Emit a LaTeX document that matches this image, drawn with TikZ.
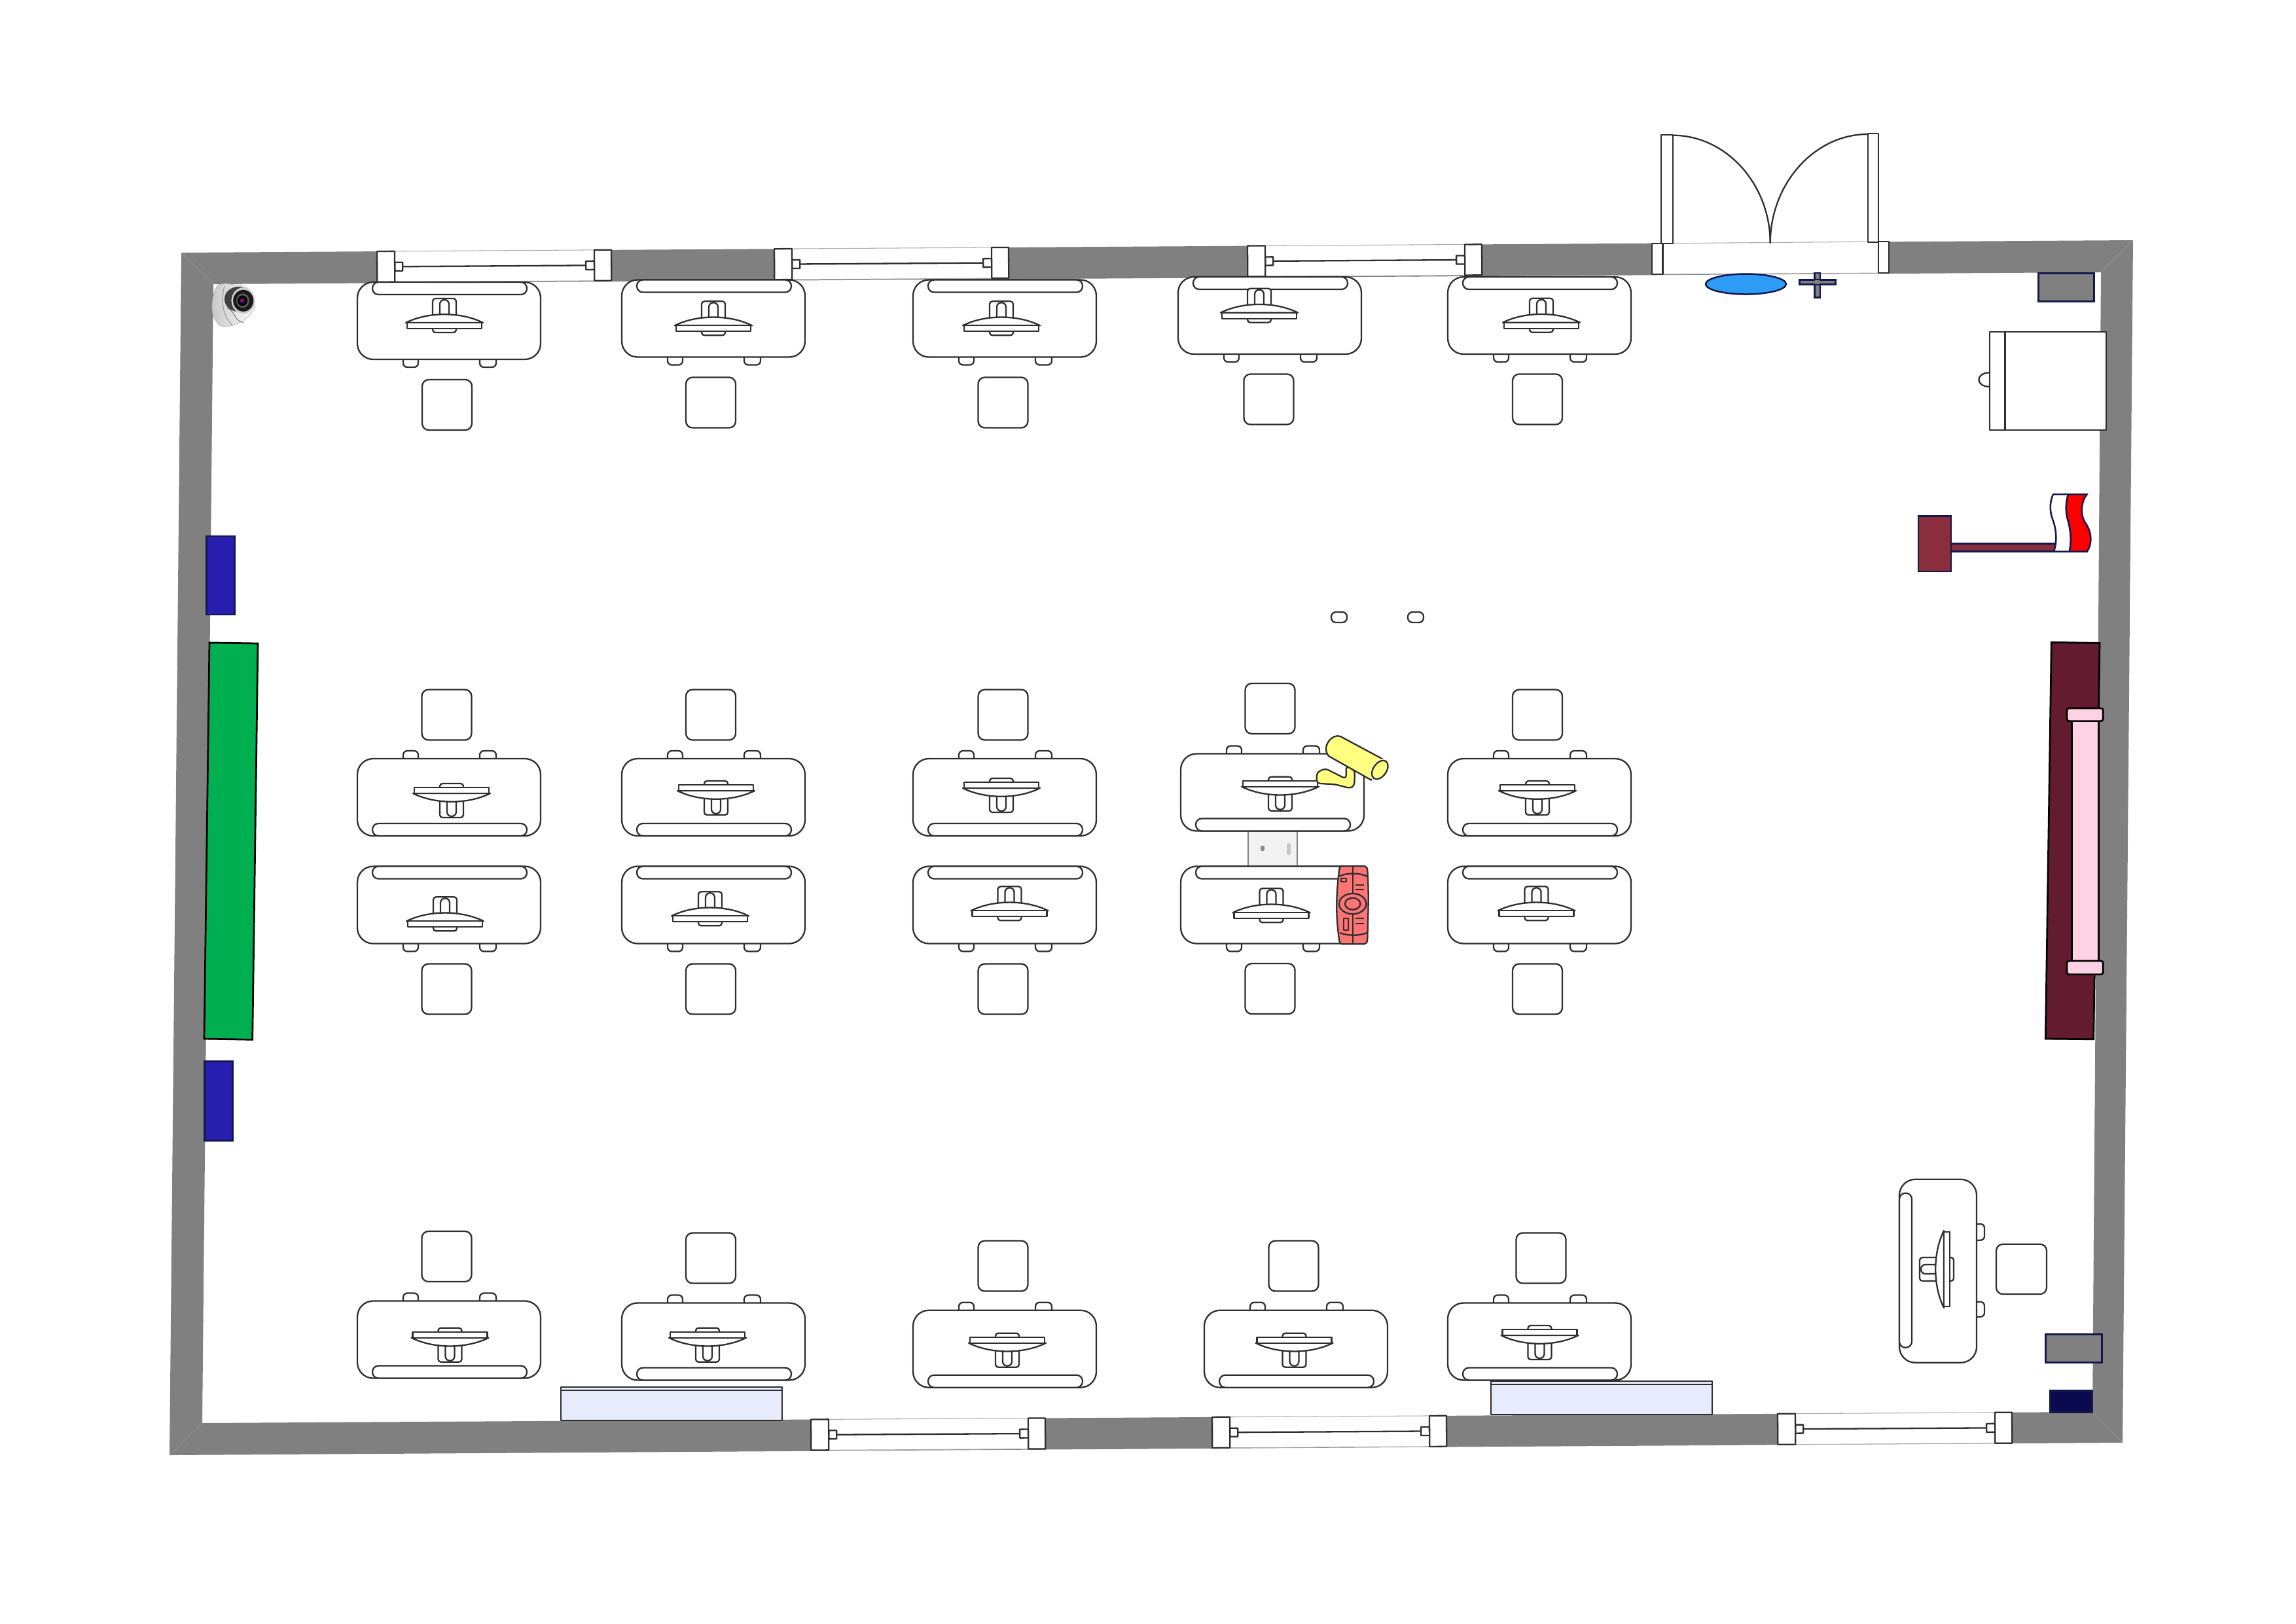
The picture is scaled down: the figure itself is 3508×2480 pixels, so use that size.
\documentclass[tikz,border=0pt]{standalone}
\usetikzlibrary{positioning}

\definecolor{wallgray}{HTML}{808080}
\definecolor{inkdark}{HTML}{2E2E2E}
\definecolor{navyline}{HTML}{13184C}
\definecolor{standred}{HTML}{8A2D3C}
\definecolor{boardwine}{HTML}{631C2F}
\definecolor{boardpink}{HTML}{FDD2E4}
\definecolor{boardgreen}{HTML}{00B050}
\definecolor{panelblue}{HTML}{281EAF}
\definecolor{shelfblue}{HTML}{E7EBFC}
\definecolor{ovalblue}{HTML}{2D9CF5}
\definecolor{camyellow}{HTML}{FFFF80}
\definecolor{remotered}{HTML}{FF7474}
\definecolor{deepnavy}{HTML}{0B0A50}

\tikzset{
    furn/.style={draw=inkdark, line width=0.55bp, fill=white, line join=round},
    wire/.style={draw=inkdark, line width=0.55bp, line join=round},
    navybox/.style={draw=navyline, line width=0.6bp},
    blackbox/.style={draw=black, line width=0.65bp},
    edgeline/.style={draw=gray!65, line width=0.25bp},
    seamline/.style={draw=gray!75, line width=0.12bp}
}

% one desk, strip side up, legs side down
\newcommand{\deskbody}{
    \draw[furn, rounded corners=1.5bp] (-70,55) -- (-70,71) -- (-47,71) -- (-47,55);
    \draw[furn, rounded corners=1.5bp] (47,55) -- (47,71) -- (72,71) -- (72,55);
    \draw[furn, rounded corners=5.8bp] (-140,-59) rectangle (140,59);
    \draw[furn, rounded corners=2.2bp] (-117,-59) rectangle (119,-40);
}
% monitor, origin on the line between hood and screen
\newcommand{\monitorset}{
    \draw[furn, rounded corners=1bp] (-18,-5) -- (-18,-37) -- (18,-37) -- (18,-5);
    \draw[furn, rounded corners=1.6bp] (-7,-5) -- (-7,-35) -- (7,-35) -- (7,-5);
    \draw[furn, rounded corners=1bp] (-18,5) -- (-18,15) -- (18,15) -- (18,5);
    \draw[furn] (-59,0) .. controls (-25,-17) and (25,-17) .. (59,0) -- cycle;
    \draw[furn] (-57,0) rectangle (57,9);
}
% window in the wall, origin at the top left of its left post
\newcommand{\wallwindow}{
    \fill[white] (0,0) rectangle (358,47);
    \draw[edgeline] (0,0) -- (358,0);
    \draw[edgeline] (0,47) -- (358,47);
    \draw[wire] (39,23.5) -- (319,23.5);
    \draw[furn] (27,17) rectangle (39,30);
    \draw[furn] (319,17) rectangle (332,30);
    \draw[furn] (0,0) rectangle (27,47);
    \draw[furn] (332,0) rectangle (358,47);
}

\begin{document}
\begin{tikzpicture}[x=0.24bp, y=-0.24bp]

    \useasboundingbox (0,0) rectangle (3508,2480);

    % walls
    \fill[wallgray, even odd rule] (277,386) -- (3259,367) -- (3243,2204) -- (259,2223) -- cycle
        (326,434) -- (3210,416) -- (3197,2157) -- (309,2174) -- cycle;
    \draw[seamline] (277,386) -- (326,434);
    \draw[seamline] (3259,367) -- (3210,416);
    \draw[seamline] (3243,2204) -- (3197,2157);
    \draw[seamline] (259,2223) -- (309,2174);

    % windows
    \foreach \wx/\wy in {576/384, 1183/380.2, 1906/375.6} {
        \begin{scope}[shift={(\wx,\wy)}, rotate=0.37]
            \wallwindow
        \end{scope}
    }
    \foreach \wx/\wy in {1239/2168.5, 1852/2164.9, 2716/2159.8} {
        \begin{scope}[shift={(\wx,\wy)}, rotate=0.34]
            \wallwindow
        \end{scope}
    }

    % double door
    \fill[white] (2524,372) -- (2886,369) -- (2886,417) -- (2524,419) -- cycle;
    \draw[edgeline] (2524,372) -- (2886,369);
    \draw[edgeline] (2524,419) -- (2886,417);
    \draw[furn] (2523.7,371.7) rectangle (2540.5,418.7);
    \draw[furn] (2870,369.3) rectangle (2886.3,416.7);
    \draw[furn] (2538,206) rectangle (2555.7,371.7);
    \draw[furn] (2853.8,204) rectangle (2870,370);
    \draw[wire] (2555.7,206.7) .. controls (2637,206.7) and (2704.7,281) .. (2704.7,371.7);
    \draw[wire] (2853.8,205) .. controls (2772,205) and (2704.7,281) .. (2704.7,371.7);

    % gap between the two centre desks
    \fill[black!5] (1906.7,1265) rectangle (1981.7,1328);
    \draw[wallgray, line width=0.55bp] (1906.7,1265) -- (1906.7,1328);
    \draw[wallgray, line width=0.55bp] (1981.7,1265) -- (1981.7,1328);
    \fill[black!45, rounded corners=0.4bp] (1926,1292) rectangle (1932,1300);
    \fill[black!22, rounded corners=0.6bp] (1966,1288) rectangle (1972,1306);

    % desks, monitors, chairs
    \foreach \deskx/\desky/\dir/\monx/\mony/\seatx/\seaty in {
        686/490/1/679/493/683/618.5, 1090/486.5/1/1090/497.3/1086/615,
        1535/486.5/1/1530/497.3/1532.5/615, 1940/482/1/1924/477.7/1938.5/610,
        2352/482/1/2355/492.7/2349/610,
        686/1218/-1/690/1212/682.5/1092, 1090/1218/-1/1094/1208/1086/1092,
        1535/1218/-1/1530/1204/1532.5/1092, 1944/1210.5/-1/1956/1201.7/1940.5/1082.5,
        2352/1218/-1/2349/1208/2349/1092,
        686/1382.5/1/680/1407.3/682.5/1511, 1090/1382.5/1/1085/1399.3/1086/1511,
        1535/1382.5/1/1542.5/1391.3/1532.5/1511, 1944/1382.5/1/1942.5/1394.3/1940.5/1510.5,
        2352/1382.5/1/2347.5/1391.3/2349/1511,
        686/2046.5/-1/687.5/2043.7/682.5/1919.5, 1090/2049.5/-1/1081/2043.7/1086/1922,
        1535/2060.7/-1/1539/2051.7/1532.5/1934, 1980/2060.7/-1/1977.5/2051.7/1976.5/1934,
        2352/2049.5/-1/2352.5/2040/2354.5/1922} {
        \begin{scope}[shift={(\deskx,\desky)}, yscale=\dir]
            \deskbody
        \end{scope}
        \begin{scope}[shift={(\monx,\mony)}, yscale=\dir]
            \monitorset
        \end{scope}
        \draw[furn, rounded corners=2.4bp] (\seatx-38,\seaty-38.5) rectangle (\seatx+38,\seaty+38.5);
    }

    % teacher desk
    \begin{scope}[shift={(2961,1941.7)}, rotate=90]
        \deskbody
    \end{scope}
    \begin{scope}[shift={(2970,1939)}, rotate=90]
        \monitorset
    \end{scope}
    \draw[furn, rounded corners=2.4bp] (3050,1900.7) rectangle (3127,1977);

    % small pills on the floor
    \draw[furn, rounded corners=1.7bp] (2034,935) rectangle (2058,951);
    \draw[furn, rounded corners=1.7bp] (2151,935) rectangle (2175,951);

    % green board and side panels
    \draw[blackbox, fill=boardgreen] (320,981.8) -- (394,983) -- (385.7,1588.3) -- (312,1587) -- cycle;
    \draw[navybox, fill=panelblue] (315.7,819) rectangle (358.3,939);
    \draw[navybox, fill=panelblue] (312.7,1621.4) rectangle (355.3,1742.6);

    % wine board with pink roller
    \draw[blackbox, fill=boardwine] (3134.3,981.2) -- (3208,982.4) -- (3198.7,1587.8) -- (3125.3,1587) -- cycle;
    \draw[blackbox, fill=boardpink] (3165.3,1100.8) rectangle (3206.7,1470);
    \draw[blackbox, fill=boardpink, rounded corners=0.8bp] (3158,1082) rectangle (3213.3,1101.6);
    \draw[blackbox, fill=boardpink, rounded corners=0.8bp] (3158,1468) rectangle (3213.3,1488.6);

    % shelves on the bottom wall
    \foreach \shx/\shy in {857.3/2119, 2278.3/2110} {
        \draw[furn, fill=shelfblue] (\shx,\shy) rectangle (\shx+337.4,\shy+51);
        \draw[wire] (\shx,\shy+5) -- (\shx+337.4,\shy+5);
    }

    % items near the door
    \draw[navybox, fill=ovalblue] (2667.5,434) ellipse (61.5 and 15.5);
    \draw[navybox, fill=wallgray] (2772.5,417) rectangle (2781,454.7);
    \draw[navybox, fill=wallgray] (2749.7,427.3) rectangle (2804.5,434.7);
    \fill[wallgray] (2773.3,427.9) rectangle (2780.2,434.1);
    \draw[navybox, fill=wallgray] (3114.5,417.7) rectangle (3199.6,460.7);
    \draw[navybox, fill=wallgray] (3125.7,2038.7) rectangle (3211.3,2081.3);
    \draw[navybox, fill=deepnavy] (3132.7,2124.7) rectangle (3196.7,2157.3);

    % cupboard
    \draw[furn] (3039.7,569.3) .. controls (3018,569.3) and (3018,590.7) .. (3039.7,590.7);
    \draw[furn] (3039.7,507) rectangle (3218,657);
    \draw[wire] (3063.5,507) -- (3063.5,657);

    % flag
    \draw[navybox, fill=standred] (2981,830.3) rectangle (3142,842.7);
    \draw[navybox, fill=standred] (2931,788.3) rectangle (2981,873);
    \draw[navybox, fill=white] (3137,755) .. controls (3131,768) and (3132,782) .. (3136,793) .. controls (3141,806) and (3144,825) .. (3138,842.7) -- (3161.7,842.7) .. controls (3166,825) and (3163,806) .. (3159,793) .. controls (3156,782) and (3156,768) .. (3160,755) -- cycle;
    \draw[navybox, fill=red] (3160,755) .. controls (3156,768) and (3156,782) .. (3159,793) .. controls (3163,806) and (3166,825) .. (3161.7,842.7) -- (3188.7,842.7) .. controls (3200,825) and (3192,806) .. (3185,797) .. controls (3178,785) and (3180,765) .. (3188.7,755) -- cycle;

    % yellow camera
    \draw[furn, fill=camyellow, rounded corners=1.2bp] (2011.7,1180) -- (2025,1174) -- (2056.7,1190) -- (2056.7,1170) -- (2070,1176.7) -- (2069.3,1200) -- (2063,1204.3) -- (2040,1198.3) -- (2011.7,1196.7) -- cycle;
    \draw[furn, fill=camyellow] (2030,1155) -- (2095,1191.7) -- (2113.3,1160) -- (2048,1125) .. controls (2036,1120) and (2018,1140) .. (2030,1155) -- cycle;
    \fill[white, rotate around={55:(2108.3,1176)}] (2108.3,1176) ellipse (19 and 12);
    \draw[furn, fill=camyellow, rotate around={55:(2108.3,1176)}] (2108.3,1176) ellipse (16 and 10);

    % red remote
    \draw[furn, fill=remotered] (2049,1323.3) -- (2085,1323.3) .. controls (2088,1323.3) and (2089,1326) .. (2089.3,1330) .. controls (2092,1370) and (2090,1400) .. (2089.3,1435) .. controls (2089,1440) and (2087,1442.3) .. (2084,1442.3) -- (2052,1442.3) .. controls (2048,1442.3) and (2046.5,1440) .. (2046,1435) .. controls (2041,1400) and (2041,1370) .. (2046,1330) .. controls (2046.5,1326) and (2047,1323.3) .. (2049,1323.3) -- cycle;
    \draw[wire] (2066.7,1323.3) -- (2066.7,1366);
    \draw[wire] (2066.7,1396) -- (2066.7,1442.3);
    \draw[wire] (2045,1339) .. controls (2058,1333) and (2076,1333) .. (2089.3,1339);
    \draw[wire] (2047,1425) .. controls (2060,1430) and (2076,1430) .. (2088.5,1425);
    \draw[wire] (2066.7,1380.7) ellipse (20.7 and 15.7);
    \draw[wire] (2066.7,1380.7) ellipse (11.7 and 9);
    \draw[wire] (2049.3,1341.7) rectangle (2056.7,1347.3);
    \draw[wire] (2053.3,1402.7) rectangle (2060,1420.7);
    \foreach \ry in {1352,1359.3,1403.3,1410.7} {
        \draw[wire] (2070.7,\ry) -- (2084.3,\ry);
    }

    % dome camera in the corner
    \shade[left color=black!22, right color=white, draw=black!35, line width=0.15bp] (333.3,435) .. controls (322,450) and (322,478) .. (328,486.7) .. controls (332,496) and (338,500) .. (345,499) .. controls (358,498) and (378,490) .. (388,472) .. controls (392,455) and (385,438) .. (365,436) -- (345,433) -- cycle;
    \draw[black!45, line width=0.2bp] (343,437) .. controls (338,455) and (338,480) .. (355,497);
    \draw[black!60, line width=0.2bp] (347,470) .. controls (362,478) and (355,488) .. (372,493);
    \fill[black!75] (364,457) ellipse (21 and 19);
    \shade[inner color=black!70, outer color=black!15] (371.7,459.3) ellipse (18 and 20);
    \fill[black!90] (371.7,459.3) ellipse (15.5 and 16.5);
    \fill[black!65] (371,459.3) ellipse (10 and 11);
    \fill[black] (370.5,459.3) ellipse (7.5 and 8);
    \fill[violet!80!magenta] (370,459.3) circle (3.2);

\end{tikzpicture}
\end{document}
